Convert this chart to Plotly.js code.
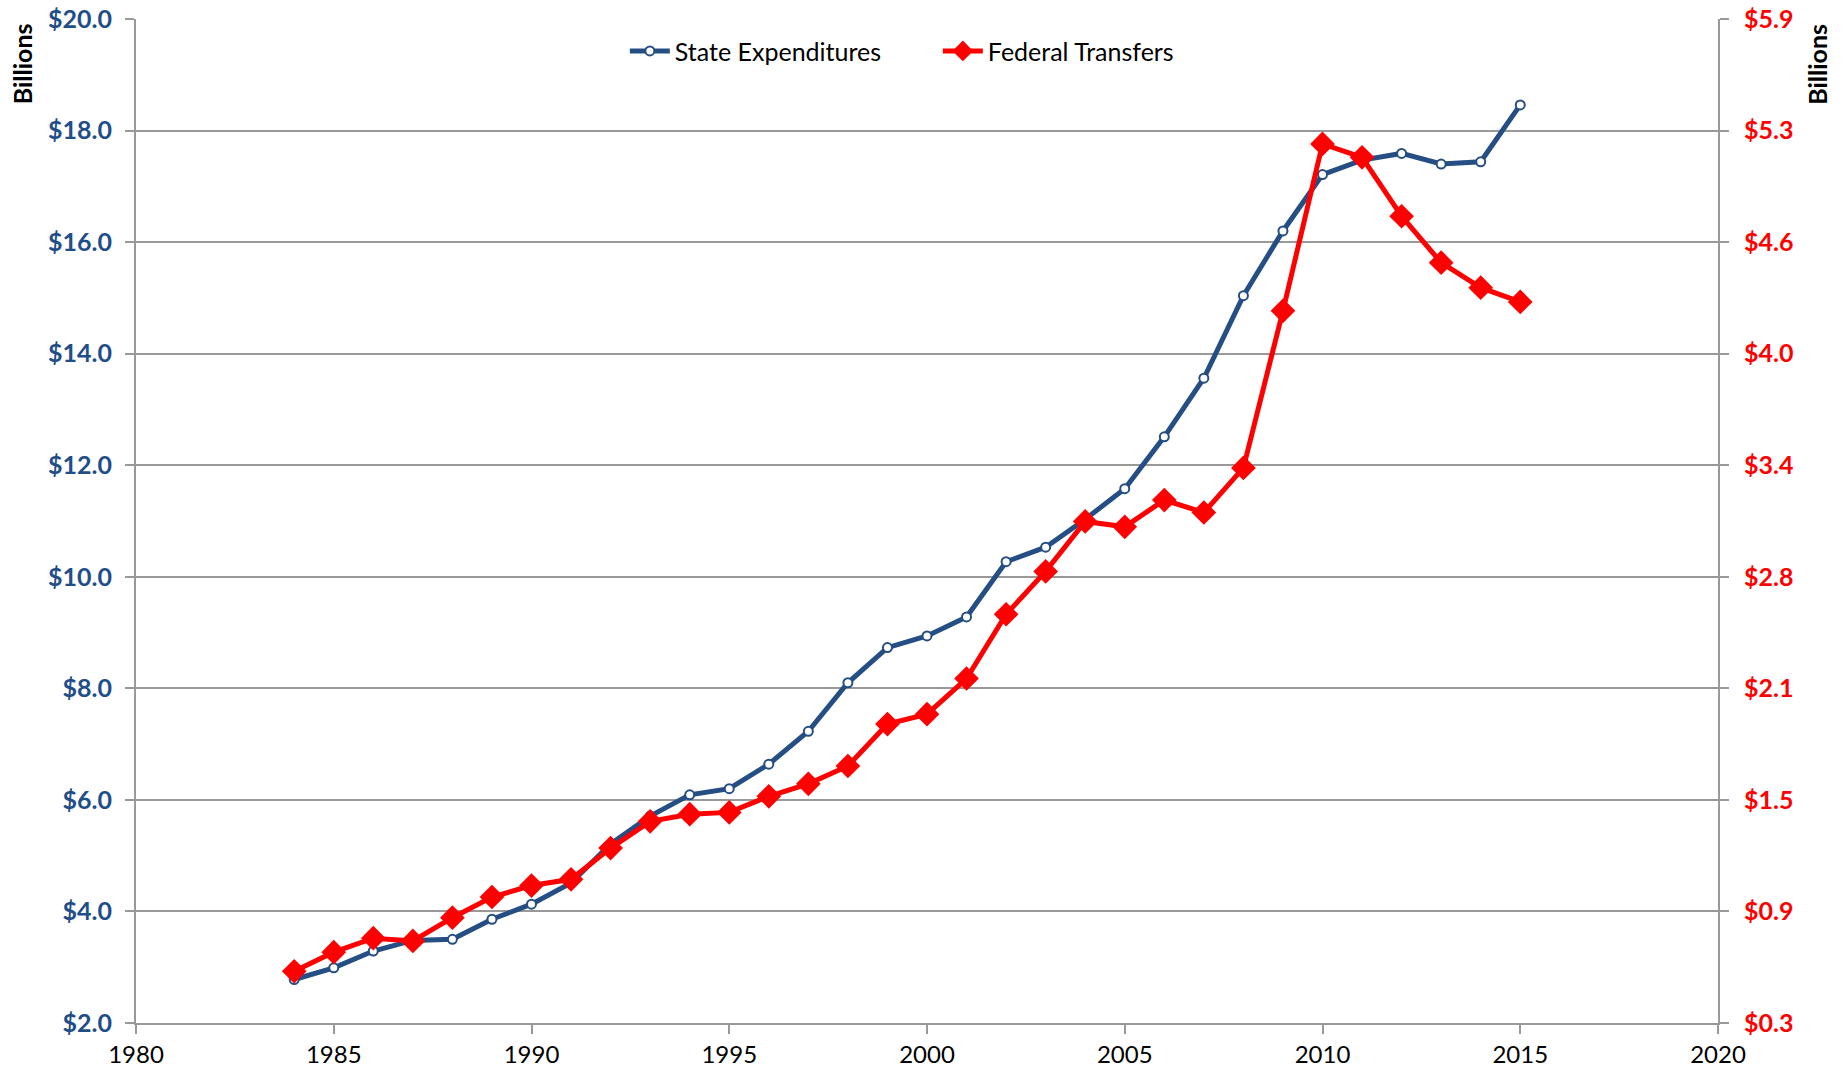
<!DOCTYPE html>
<html>
<head>
<meta charset="utf-8">
<script src="https://cdn.plot.ly/plotly-3.0.1.min.js"></script>
<style>
html,body{margin:0;padding:0;background:#fff;}
#chart{width:1845px;height:1071px;}
</style>
</head>
<body>
<div id="chart"></div>
<script>
const years = [1984,1985,1986,1987,1988,1989,1990,1991,1992,1993,1994,1995,1996,1997,1998,1999,2000,2001,2002,2003,2004,2005,2006,2007,2008,2009,2010,2011,2012,2013,2014,2015];
const stateExpenditures = [2.78,2.99,3.29,3.48,3.50,3.86,4.13,4.51,5.21,5.71,6.09,6.20,6.64,7.23,8.10,8.73,8.94,9.28,10.27,10.53,11.03,11.58,12.51,13.56,15.04,16.20,17.21,17.47,17.59,17.40,17.44,18.46];
const federalTransfers = [0.55,0.657,0.735,0.72,0.85,0.966,1.03,1.065,1.24,1.39,1.43,1.44,1.53,1.60,1.70,1.935,1.99,2.19,2.55,2.79,3.07,3.04,3.19,3.12,3.37,4.25,5.185,5.11,4.78,4.52,4.38,4.30];
const rightTickText = ['$0.3','$0.9','$1.5','$2.1','$2.8','$3.4','$4.0','$4.6','$5.3','$5.9'];
const seriesNames = ['State Expenditures','Federal Transfers'];

const rightMin = 0.26, rightStep = 0.625;
const rightTickVals = rightTickText.map((t, i) => rightMin + i * rightStep);
const rightMax = rightTickVals[rightTickVals.length - 1];

const FONT = 'Lato, "Open Sans", "Liberation Sans", sans-serif';
const GRID = '#999999';

const traces = [
  {
    x: years, y: stateExpenditures, name: seriesNames[0], type: 'scatter', mode: 'lines+markers',
    yaxis: 'y',
    line: {color: '#254E84', width: 5},
    marker: {symbol: 'circle', size: 9, color: '#ffffff', line: {color: '#254E84', width: 2}}
  },
  {
    x: years, y: federalTransfers, name: seriesNames[1], type: 'scatter', mode: 'lines+markers',
    yaxis: 'y2',
    line: {color: '#FF0000', width: 5},
    marker: {symbol: 'diamond', size: 19, color: '#FF0000', line: {width: 0}}
  }
];

const layout = {
  width: 1845, height: 1071,
  paper_bgcolor: '#ffffff', plot_bgcolor: '#ffffff',
  margin: {l: 136, r: 127, t: 19, b: 48, pad: 0},
  showlegend: true,
  legend: {
    orientation: 'h', x: 0.309, xanchor: 'left', y: 0.968, yanchor: 'middle',
    font: {family: FONT, size: 25, color: '#000000'},
    bgcolor: 'rgba(0,0,0,0)', itemwidth: 40, tracegroupgap: 0,
    entrywidth: 258, entrywidthmode: 'pixels'
  },
  xaxis: {
    range: [1980, 2020], dtick: 5, tick0: 1980,
    showgrid: false, zeroline: false,
    showline: true, linecolor: GRID, linewidth: 2,
    ticks: 'outside', ticklen: 9, tickwidth: 2, tickcolor: GRID,
    ticklabelstandoff: 0,
    tickfont: {family: FONT, size: 24, color: '#000000'},
    fixedrange: true
  },
  yaxis: {
    range: [2, 20], dtick: 2, tick0: 2,
    tickprefix: '$', tickformat: '.1f',
    showgrid: true, gridcolor: GRID, gridwidth: 2, zeroline: false,
    showline: true, linecolor: GRID, linewidth: 2,
    ticks: 'outside', ticklen: 9, tickwidth: 2, tickcolor: GRID,
    ticklabelstandoff: 8,
    tickfont: {family: FONT, size: 25, color: '#1F4E89', weight: 'bold'}
  },
  yaxis2: {
    overlaying: 'y', side: 'right',
    range: [rightMin, rightMax],
    tickvals: rightTickVals, ticktext: rightTickText,
    showgrid: false, zeroline: false,
    showline: true, linecolor: GRID, linewidth: 2,
    ticks: 'outside', ticklen: 9, tickwidth: 2, tickcolor: GRID,
    ticklabelstandoff: 10,
    tickfont: {family: FONT, size: 25, color: '#FF0000', weight: 'bold'}
  },
  annotations: [
    {text: 'Billions', xref: 'paper', yref: 'paper', x: -0.072, y: 0.955, textangle: -90,
     showarrow: false, xanchor: 'center', yanchor: 'middle',
     font: {family: FONT, size: 25, color: '#000000', weight: 'bold'}},
    {text: 'Billions', xref: 'paper', yref: 'paper', x: 1.063, y: 0.955, textangle: -90,
     showarrow: false, xanchor: 'center', yanchor: 'middle',
     font: {family: FONT, size: 25, color: '#000000', weight: 'bold'}}
  ]
};

Plotly.newPlot('chart', traces, layout, {displayModeBar: false, staticPlot: true});
</script>
</body>
</html>
